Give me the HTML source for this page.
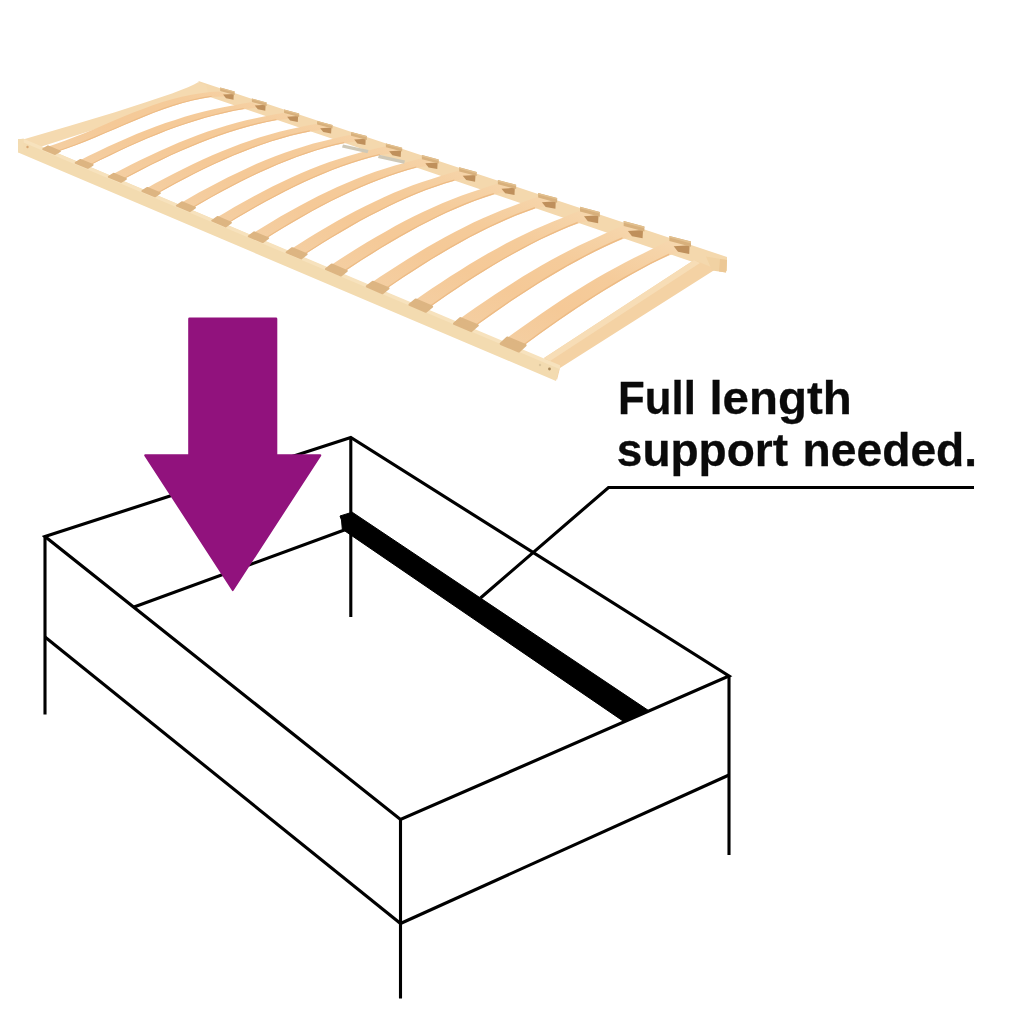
<!DOCTYPE html>
<html lang="en">
<head>
<meta charset="utf-8">
<title>Full length support needed</title>
<style>
html,body{margin:0;padding:0;background:#fff;}
body{width:1024px;height:1024px;overflow:hidden;position:relative;font-family:"Liberation Sans",sans-serif;}
svg{position:absolute;left:0;top:0;display:block;}
.t{font-family:"Liberation Sans",sans-serif;font-weight:bold;font-size:46.5px;fill:#0a0a0a;stroke:#0a0a0a;stroke-width:.3px;}
</style>
</head>
<body>
<svg width="1024" height="1024" viewBox="0 0 1024 1024">
<rect width="1024" height="1024" fill="#fff"/>
<!-- slatted bed base -->
<defs>
<linearGradient id="sg" gradientUnits="userSpaceOnUse" x1="300" y1="262" x2="372" y2="90">
<stop offset="0" stop-color="#f4cfa3"/><stop offset=".3" stop-color="#f5c997"/><stop offset=".55" stop-color="#f5cb9a"/><stop offset=".8" stop-color="#f6d4a9"/><stop offset="1" stop-color="#f6dcb6"/>
</linearGradient>
<filter id="bl" x="-5%" y="-5%" width="110%" height="110%"><feGaussianBlur stdDeviation=".7"/></filter>
</defs>
<g filter="url(#bl)">
<polygon points="198.5,81.1 727,257 727,271 712,268.6 199,93.2" fill="#f4d8ad"/>
<polygon points="23,139.6 70,125.7 115,112.2 145,102.4 160,97.4 172,93.6 188,87.2 194,84.6 198,82.3 206,85 208,93 40,147" fill="#f5dab0"/>
<polygon points="544,358 694,260 716,269 560,368 557,380" fill="#f4d2a4"/>
<polygon points="544,358 694,260 700,263 550,361" fill="#f7ddb6"/>
<polygon points="706,256.5 727,260 726,272.5 712,270.5" fill="#f1d2a3"/>
<polygon points="720,259 727,260 726,272.5 719,271.5" fill="#ecc896"/>
<polygon points="46.1,147.2 55.8,144 65.5,140.5 75.2,136.8 84.9,132.9 94.6,128.9 104.3,124.7 114,120.6 123.6,116.6 133.3,112.6 143,108.9 152.7,105.3 162.4,102.1 172.1,99.2 181.8,96.7 191.5,94.7 200.9,93.2 210,92.1 219,91.6 233.6,96.5 222.7,96.4 212.1,97 202.1,98.4 192.4,100.4 182.7,103 173,105.9 163.4,109.2 153.7,112.8 144,116.7 134.4,120.7 124.7,124.8 115,128.9 105.3,133.1 95.7,137.2 86,141.2 76.3,145 66.6,148.5 57,151.8" fill="url(#sg)"/>
<polygon points="57,150.7 66.6,147.5 76.3,143.9 86,140.1 95.7,136.1 105.3,132 115,127.9 124.7,123.7 134.4,119.6 144,115.6 153.7,111.7 163.4,108.1 173,104.8 182.7,101.9 192.4,99.4 202.1,97.3 211.7,95.8 211.7,96.8 202.1,98.4 192.4,100.4 182.7,103 173,105.9 163.4,109.2 153.7,112.8 144,116.7 134.4,120.7 124.7,124.8 115,128.9 105.3,133.1 95.7,137.2 86,141.2 76.3,145 66.6,148.5 57,151.8" fill="#edbb85"/>
<polygon points="78.7,160.9 88.3,156.1 97.9,151.4 107.6,146.8 117.2,142.4 126.9,138.2 136.5,134.1 146.1,130.3 155.8,126.6 165.4,123.1 175.1,119.9 184.7,116.8 194.3,114 204,111.5 213.6,109.2 223.3,107.2 232.7,105.4 241.7,103.7 250.6,102.3 265.6,107.3 254.7,108 244.1,109.2 234.1,110.8 224.5,112.9 214.8,115.2 205.2,117.8 195.6,120.7 186,123.8 176.3,127.1 166.7,130.6 157.1,134.4 147.5,138.3 137.8,142.5 128.2,146.8 118.6,151.2 109,155.9 99.3,160.6 89.7,165.5" fill="url(#sg)"/>
<polygon points="89.7,164.4 99.3,159.5 109,154.8 118.6,150.2 128.2,145.7 137.8,141.4 147.5,137.2 157.1,133.3 166.7,129.5 176.3,126 186,122.7 195.6,119.6 205.2,116.8 214.8,114.2 224.5,111.8 234.1,109.8 243.7,108 243.7,109.1 234.1,110.8 224.5,112.9 214.8,115.2 205.2,117.8 195.6,120.7 186,123.8 176.3,127.1 166.7,130.6 157.1,134.4 147.5,138.3 137.8,142.5 128.2,146.8 118.6,151.2 109,155.9 99.3,160.6 89.7,165.5" fill="#edbb85"/>
<polygon points="111.7,174.8 121.3,169.7 130.9,164.8 140.5,160 150.1,155.4 159.7,151 169.3,146.7 178.9,142.6 188.5,138.7 198.1,135.1 207.7,131.6 217.3,128.4 226.9,125.5 236.5,122.8 246.1,120.3 255.7,118.2 265,116.2 274,114.5 282.8,113 298.2,118 287.4,118.9 276.7,120.2 266.8,122 257.2,124.2 247.6,126.7 238,129.4 228.4,132.4 218.9,135.7 209.3,139.2 199.7,142.9 190.1,146.9 180.5,151 170.9,155.3 161.3,159.9 151.8,164.5 142.2,169.4 132.6,174.4 123,179.5" fill="url(#sg)"/>
<polygon points="123,178.4 132.6,173.3 142.2,168.3 151.8,163.4 161.3,158.7 170.9,154.2 180.5,149.9 190.1,145.7 199.7,141.8 209.3,138.1 218.9,134.6 228.4,131.3 238,128.3 247.6,125.5 257.2,123.1 266.8,120.9 276.4,118.9 276.4,120.1 266.8,122 257.2,124.2 247.6,126.7 238,129.4 228.4,132.4 218.9,135.7 209.3,139.2 199.7,142.9 190.1,146.9 180.5,151 170.9,155.3 161.3,159.9 151.8,164.5 142.2,169.4 132.6,174.4 123,179.5" fill="#edbb85"/>
<polygon points="145.4,188.9 154.9,183.6 164.5,178.5 174.1,173.5 183.6,168.7 193.2,164 202.8,159.6 212.3,155.3 221.9,151.2 231.4,147.4 241,143.8 250.6,140.4 260.1,137.2 269.7,134.4 279.3,131.8 288.8,129.5 298.1,127.4 307.1,125.5 315.8,123.9 331.6,129.1 320.8,130.1 310.2,131.5 300.3,133.4 290.7,135.8 281.2,138.4 271.6,141.3 262.1,144.5 252.5,148 243,151.7 233.4,155.6 223.9,159.7 214.3,164 204.8,168.6 195.2,173.3 185.7,178.2 176.1,183.3 166.6,188.5 157,193.8" fill="url(#sg)"/>
<polygon points="157,192.7 166.6,187.3 176.1,182.1 185.7,177.1 195.2,172.2 204.8,167.4 214.3,162.9 223.9,158.6 233.4,154.4 243,150.5 252.5,146.8 262.1,143.4 271.6,140.2 281.2,137.3 290.7,134.6 300.3,132.3 309.8,130.2 309.8,131.4 300.3,133.4 290.7,135.8 281.2,138.4 271.6,141.3 262.1,144.5 252.5,148 243,151.7 233.4,155.6 223.9,159.7 214.3,164 204.8,168.6 195.2,173.3 185.7,178.2 176.1,183.3 166.6,188.5 157,193.8" fill="#edbb85"/>
<polygon points="179.9,203.4 189.4,197.9 198.9,192.6 208.5,187.4 218,182.4 227.5,177.5 237.1,172.9 246.6,168.4 256.1,164.1 265.7,160.1 275.2,156.3 284.7,152.7 294.3,149.4 303.8,146.4 313.3,143.6 322.8,141.2 332.1,138.9 341,136.8 349.7,135 366,140.4 355.2,141.6 344.6,143.2 334.7,145.3 325.2,147.8 315.7,150.6 306.1,153.7 296.6,157.1 287.1,160.7 277.6,164.6 268.1,168.7 258.5,173 249,177.5 239.5,182.3 230,187.2 220.5,192.3 210.9,197.5 201.4,202.9 191.9,208.5" fill="url(#sg)"/>
<polygon points="191.9,207.3 201.4,201.8 210.9,196.4 220.5,191.1 230,186 239.5,181.1 249,176.4 258.5,171.8 268.1,167.5 277.6,163.4 287.1,159.5 296.6,155.9 306.1,152.5 315.7,149.4 325.2,146.6 334.7,144.1 344.2,141.9 344.2,143 334.7,145.3 325.2,147.8 315.7,150.6 306.1,153.7 296.6,157.1 287.1,160.7 277.6,164.6 268.1,168.7 258.5,173 249,177.5 239.5,182.3 230,187.2 220.5,192.3 210.9,197.5 201.4,202.9 191.9,208.5" fill="#edbb85"/>
<polygon points="215.4,218.3 224.9,212.7 234.4,207.1 243.9,201.8 253.4,196.5 262.9,191.5 272.4,186.6 281.9,182 291.4,177.5 300.9,173.3 310.4,169.3 319.9,165.6 329.4,162.1 338.9,158.9 348.4,155.9 357.9,153.3 367.1,150.8 376,148.6 384.6,146.6 401.5,152.2 390.7,153.5 380.1,155.2 370.2,157.5 360.7,160.2 351.2,163.3 341.7,166.5 332.2,170.1 322.7,173.9 313.2,178 303.7,182.3 294.3,186.8 284.8,191.5 275.3,196.4 265.8,201.5 256.3,206.8 246.8,212.2 237.3,217.8 227.8,223.6" fill="url(#sg)"/>
<polygon points="227.8,222.4 237.3,216.6 246.8,211 256.3,205.6 265.8,200.3 275.3,195.2 284.8,190.3 294.3,185.6 303.7,181.1 313.2,176.8 322.7,172.7 332.2,168.9 341.7,165.3 351.2,162.1 360.7,159 370.2,156.3 379.7,153.9 379.7,155.1 370.2,157.5 360.7,160.2 351.2,163.3 341.7,166.5 332.2,170.1 322.7,173.9 313.2,178 303.7,182.3 294.3,186.8 284.8,191.5 275.3,196.4 265.8,201.5 256.3,206.8 246.8,212.2 237.3,217.8 227.8,223.6" fill="#edbb85"/>
<polygon points="252,233.7 261.5,227.9 271,222.2 280.4,216.6 289.9,211.2 299.4,206 308.8,200.9 318.3,196.1 327.8,191.5 337.3,187 346.7,182.9 356.2,178.9 365.7,175.2 375.1,171.8 384.6,168.7 394.1,165.8 403.3,163.2 412.1,160.7 420.7,158.5 438.2,164.3 427.4,165.9 416.7,167.8 406.9,170.3 397.4,173.2 387.9,176.4 378.5,179.9 369,183.7 359.6,187.7 350.1,191.9 340.6,196.4 331.2,201.1 321.7,206 312.3,211.1 302.8,216.4 293.3,221.9 283.9,227.5 274.4,233.3 264.9,239.2" fill="url(#sg)"/>
<polygon points="264.9,237.9 274.4,232 283.9,226.2 293.3,220.6 302.8,215.2 312.3,209.9 321.7,204.8 331.2,199.9 340.6,195.2 350.1,190.7 359.6,186.4 369,182.4 378.5,178.7 387.9,175.2 397.4,172 406.9,169 416.3,166.4 416.3,167.6 406.9,170.3 397.4,173.2 387.9,176.4 378.5,179.9 369,183.7 359.6,187.7 350.1,191.9 340.6,196.4 331.2,201.1 321.7,206 312.3,211.1 302.8,216.4 293.3,221.9 283.9,227.5 274.4,233.3 264.9,239.2" fill="#edbb85"/>
<polygon points="289.9,249.7 299.4,243.7 308.8,237.8 318.3,232 327.7,226.5 337.1,221 346.6,215.8 356,210.8 365.5,206 374.9,201.4 384.4,197 393.8,192.8 403.2,188.9 412.7,185.3 422.1,182 431.6,178.9 440.7,176 449.5,173.3 458,170.8 476.3,176.9 465.4,178.7 454.7,180.8 444.9,183.5 435.5,186.7 426,190.1 416.6,193.8 407.2,197.8 397.7,202 388.3,206.5 378.9,211.2 369.4,216 360,221.1 350.6,226.4 341.2,231.9 331.7,237.5 322.3,243.3 312.9,249.3 303.4,255.3" fill="url(#sg)"/>
<polygon points="303.4,254.1 312.9,248 322.3,242 331.7,236.2 341.2,230.6 350.6,225.1 360,219.8 369.4,214.8 378.9,209.9 388.3,205.2 397.7,200.7 407.2,196.5 416.6,192.6 426,188.8 435.5,185.4 444.9,182.3 454.3,179.4 454.3,180.7 444.9,183.5 435.5,186.7 426,190.1 416.6,193.8 407.2,197.8 397.7,202 388.3,206.5 378.9,211.2 369.4,216 360,221.1 350.6,226.4 341.2,231.9 331.7,237.5 322.3,243.3 312.9,249.3 303.4,255.3" fill="#edbb85"/>
<polygon points="329.3,266.2 338.7,260 348.1,254 357.6,248.1 367,242.3 376.4,236.8 385.8,231.4 395.2,226.1 404.6,221.1 414,216.3 423.4,211.7 432.8,207.4 442.2,203.3 451.6,199.4 461.1,195.8 470.5,192.5 479.6,189.4 488.3,186.4 496.7,183.7 515.8,190 504.9,192 494.2,194.4 484.4,197.4 475,200.8 465.6,204.5 456.2,208.4 446.8,212.6 437.4,217 428,221.7 418.6,226.6 409.2,231.7 399.8,236.9 390.4,242.4 381,248 371.6,253.9 362.2,259.8 352.8,265.9 343.4,272.2" fill="url(#sg)"/>
<polygon points="343.4,270.8 352.8,264.6 362.2,258.5 371.6,252.5 381,246.7 390.4,241.1 399.8,235.6 409.2,230.3 418.6,225.2 428,220.4 437.4,215.7 446.8,211.3 456.2,207.1 465.6,203.1 475,199.5 484.4,196.1 493.8,192.9 493.8,194.3 484.4,197.4 475,200.8 465.6,204.5 456.2,208.4 446.8,212.6 437.4,217 428,221.7 418.6,226.6 409.2,231.7 399.8,236.9 390.4,242.4 381,248 371.6,253.9 362.2,259.8 352.8,265.9 343.4,272.2" fill="#edbb85"/>
<polygon points="370.3,283.5 379.7,277.1 389.1,270.9 398.4,264.9 407.8,258.9 417.2,253.2 426.6,247.6 435.9,242.2 445.3,237 454.7,232 464.1,227.2 473.4,222.6 482.8,218.2 492.2,214.2 501.6,210.3 510.9,206.7 520,203.3 528.6,200.1 537,197 556.9,203.6 546,205.9 535.3,208.6 525.5,211.9 516.1,215.5 506.8,219.5 497.4,223.7 488.1,228.1 478.7,232.7 469.3,237.6 460,242.7 450.6,248 441.3,253.5 431.9,259.1 422.5,264.9 413.2,270.9 403.8,277 394.5,283.3 385.1,289.7" fill="url(#sg)"/>
<polygon points="385.1,288.3 394.5,281.9 403.8,275.6 413.2,269.5 422.5,263.5 431.9,257.7 441.3,252.1 450.6,246.6 460,241.3 469.3,236.2 478.7,231.3 488.1,226.7 497.4,222.3 506.8,218.1 516.1,214.1 525.5,210.5 534.9,207.1 534.9,208.5 525.5,211.9 516.1,215.5 506.8,219.5 497.4,223.7 488.1,228.1 478.7,232.7 469.3,237.6 460,242.7 450.6,248 441.3,253.5 431.9,259.1 422.5,264.9 413.2,270.9 403.8,277 394.5,283.3 385.1,289.7" fill="#edbb85"/>
<polygon points="413.1,301.4 422.4,295 431.8,288.6 441.1,282.4 450.4,276.3 459.8,270.4 469.1,264.6 478.4,259 487.8,253.6 497.1,248.4 506.4,243.3 515.8,238.5 525.1,233.9 534.4,229.6 543.8,225.5 553.1,221.6 562.1,217.9 570.7,214.3 579,210.9 599.8,217.8 588.9,220.5 578.2,223.5 568.4,227 559.1,231 549.7,235.2 540.4,239.6 531.1,244.3 521.8,249.2 512.5,254.3 503.1,259.6 493.8,265.1 484.5,270.8 475.2,276.6 465.9,282.6 456.6,288.7 447.2,295 437.9,301.4 428.6,307.9" fill="url(#sg)"/>
<polygon points="428.6,306.5 437.9,300 447.2,293.6 456.6,287.3 465.9,281.1 475.2,275.1 484.5,269.3 493.8,263.7 503.1,258.2 512.5,252.9 521.8,247.8 531.1,242.9 540.4,238.2 549.7,233.7 559.1,229.5 568.4,225.5 577.7,221.8 577.7,223.3 568.4,227 559.1,231 549.7,235.2 540.4,239.6 531.1,244.3 521.8,249.2 512.5,254.3 503.1,259.6 493.8,265.1 484.5,270.8 475.2,276.6 465.9,282.6 456.6,288.7 447.2,295 437.9,301.4 428.6,307.9" fill="#edbb85"/>
<polygon points="457.8,320.2 467.1,313.6 476.4,307.1 485.7,300.7 494.9,294.5 504.2,288.4 513.5,282.4 522.8,276.6 532.1,271 541.4,265.6 550.7,260.3 560,255.3 569.2,250.4 578.5,245.8 587.8,241.4 597.1,237.2 606.1,233.1 614.5,229.2 622.7,225.4 644.6,232.7 633.6,235.7 622.9,239 613.1,242.9 603.9,247.2 594.6,251.7 585.3,256.4 576.1,261.4 566.8,266.5 557.5,271.9 548.2,277.4 539,283.1 529.7,288.9 520.4,295 511.2,301.1 501.9,307.4 492.6,313.9 483.4,320.4 474.1,327.1" fill="url(#sg)"/>
<polygon points="474.1,325.5 483.4,318.9 492.6,312.3 501.9,305.9 511.2,299.6 520.4,293.4 529.7,287.4 539,281.5 548.2,275.8 557.5,270.3 566.8,265 576.1,259.8 585.3,254.9 594.6,250.1 603.9,245.6 613.1,241.3 622.4,237.3 622.4,238.8 613.1,242.9 603.9,247.2 594.6,251.7 585.3,256.4 576.1,261.4 566.8,266.5 557.5,271.9 548.2,277.4 539,283.1 529.7,288.9 520.4,295 511.2,301.1 501.9,307.4 492.6,313.9 483.4,320.4 474.1,327.1" fill="#edbb85"/>
<polygon points="504.6,339.9 513.8,333.1 523,326.5 532.3,320 541.5,313.5 550.7,307.3 560,301.1 569.2,295.1 578.4,289.3 587.7,283.6 596.9,278.1 606.1,272.8 615.4,267.7 624.6,262.7 633.8,258 643.1,253.5 652,249.1 660.3,244.7 668.4,240.6 691.4,248.2 680.4,251.6 669.6,255.2 659.9,259.5 650.7,264.1 641.5,269 632.3,274 623.1,279.2 613.9,284.7 604.6,290.3 595.4,296 586.2,301.9 577,308 567.8,314.2 558.6,320.6 549.4,327 540.2,333.6 531,340.3 521.7,347.1" fill="url(#sg)"/>
<polygon points="521.7,345.5 531,338.7 540.2,332 549.4,325.4 558.6,319 567.8,312.6 577,306.4 586.2,300.3 595.4,294.4 604.6,288.7 613.9,283.1 623.1,277.6 632.3,272.4 641.5,267.4 650.7,262.5 659.9,257.9 669.1,253.5 669.1,255.1 659.9,259.5 650.7,264.1 641.5,269 632.3,274 623.1,279.2 613.9,284.7 604.6,290.3 595.4,296 586.2,301.9 577,308 567.8,314.2 558.6,320.6 549.4,327 540.2,333.6 531,340.3 521.7,347.1" fill="#edbb85"/>
<polygon points="223.1,94.5 233.8,93.9 233.5,99.7 226,98.2" fill="#bf905b"/>
<polygon points="220.2,87.6 234.7,91.4 234.7,94.9 220.2,91.1" fill="#d8b07c"/>
<polygon points="220.2,87.6 234.7,91.4 234.7,92.6 220.2,88.7" fill="#e2c08f"/>
<polygon points="254.8,105.5 265.6,104.8 265.3,110.7 257.8,109.3" fill="#bf905b"/>
<polygon points="251.9,98.5 266.6,102.4 266.6,105.9 251.9,102" fill="#d8b07c"/>
<polygon points="251.9,98.5 266.6,102.4 266.6,103.6 251.9,99.6" fill="#e2c08f"/>
<polygon points="287.1,116.7 298.1,116 297.8,122 290.1,120.5" fill="#bf905b"/>
<polygon points="284.1,109.5 299.1,113.5 299.1,117.1 284.1,113.1" fill="#d8b07c"/>
<polygon points="284.1,109.5 299.1,113.5 299.1,114.7 284.1,110.7" fill="#e2c08f"/>
<polygon points="320.2,128.2 331.5,127.5 331.1,133.6 323.3,132.1" fill="#bf905b"/>
<polygon points="317.1,120.9 332.5,124.9 332.5,128.6 317.1,124.5" fill="#d8b07c"/>
<polygon points="317.1,120.9 332.5,124.9 332.5,126.2 317.1,122.1" fill="#e2c08f"/>
<polygon points="354.2,139.5 365.7,138.8 365.4,145.1 357.3,143.5" fill="#bf905b"/>
<polygon points="351,131.9 366.8,136.1 366.8,139.9 351,135.7" fill="#d8b07c"/>
<polygon points="351,131.9 366.8,136.1 366.8,137.4 351,133.2" fill="#e2c08f"/>
<polygon points="389.1,151.2 401.1,150.4 400.7,156.9 392.4,155.3" fill="#bf905b"/>
<polygon points="385.9,143.4 402.1,147.7 402.1,151.6 385.9,147.3" fill="#d8b07c"/>
<polygon points="385.9,143.4 402.1,147.7 402.1,149 385.9,144.7" fill="#e2c08f"/>
<polygon points="425.3,163.2 437.6,162.4 437.3,169.1 428.6,167.5" fill="#bf905b"/>
<polygon points="421.9,155.1 438.7,159.6 438.7,163.6 421.9,159.2" fill="#d8b07c"/>
<polygon points="421.9,155.1 438.7,159.6 438.7,161 421.9,156.5" fill="#e2c08f"/>
<polygon points="462.7,175.7 475.5,174.9 475.1,181.8 466.2,180.1" fill="#bf905b"/>
<polygon points="459.2,167.3 476.7,172 476.7,176.1 459.2,171.5" fill="#d8b07c"/>
<polygon points="459.2,167.3 476.7,172 476.7,173.4 459.2,168.7" fill="#e2c08f"/>
<polygon points="501.5,188.7 514.8,187.8 514.5,195.1 505.2,193.3" fill="#bf905b"/>
<polygon points="497.9,179.9 516.1,184.8 516.1,189.1 497.9,184.3" fill="#d8b07c"/>
<polygon points="497.9,179.9 516.1,184.8 516.1,186.2 497.9,181.4" fill="#e2c08f"/>
<polygon points="541.9,202.2 555.8,201.3 555.4,208.8 545.7,206.9" fill="#bf905b"/>
<polygon points="538.1,193.1 557.1,198.1 557.1,202.7 538.1,197.6" fill="#d8b07c"/>
<polygon points="538.1,193.1 557.1,198.1 557.1,199.6 538.1,194.6" fill="#e2c08f"/>
<polygon points="584,216.2 598.5,215.3 598.1,223.2 587.9,221.2" fill="#bf905b"/>
<polygon points="580,206.7 599.8,212 599.8,216.8 580,211.5" fill="#d8b07c"/>
<polygon points="580,206.7 599.8,212 599.8,213.6 580,208.3" fill="#e2c08f"/>
<polygon points="627.9,230.9 643,230 642.6,238.2 632,236.2" fill="#bf905b"/>
<polygon points="623.7,221 644.4,226.5 644.4,231.5 623.7,226" fill="#d8b07c"/>
<polygon points="623.7,221 644.4,226.5 644.4,228.2 623.7,222.7" fill="#e2c08f"/>
<polygon points="673.7,246.3 689.6,245.3 689.2,253.9 678,251.8" fill="#bf905b"/>
<polygon points="669.4,235.9 691,241.6 691,246.8 669.4,241.1" fill="#d8b07c"/>
<polygon points="669.4,235.9 691,241.6 691,243.4 669.4,237.6" fill="#e2c08f"/>
<polygon points="343,144.4 368.5,150 367.5,153.2 342,147.6" fill="#cfc8b6"/>
<polygon points="379,154.8 405,160.6 404,163.8 378,158" fill="#cfc8b6"/>
<polygon points="18,139.3 23.5,138.8 560,366.2 559.5,368 556,381 18.2,152.5" fill="#f3dbb0"/>
<polygon points="23.5,138.8 560,365.2 560,369.2 23.5,142.5" fill="#f7e2bd"/>
<polygon points="18,139.3 23.5,138.8 23.5,152.5 18.2,152.5" fill="#f3dcb2"/>
<circle cx="27.5" cy="147" r="1.2" fill="#d9a772"/>
<circle cx="549.5" cy="369" r="1.4" fill="#a88758"/>
<circle cx="540" cy="365" r="1.2" fill="#dcc59d"/>
<polygon points="48,146.2 60,151.3 55.1,154.1 43.1,149.1" fill="#ddb582" stroke="#ddb582" stroke-width="1.7" stroke-linejoin="round"/>
<polygon points="80.5,159.8 92.7,164.9 87.8,167.9 75.6,162.8" fill="#ddb582" stroke="#ddb582" stroke-width="1.8" stroke-linejoin="round"/>
<polygon points="113.6,173.7 126,178.9 121,182 108.7,176.8" fill="#ddb582" stroke="#ddb582" stroke-width="1.8" stroke-linejoin="round"/>
<polygon points="147.4,187.8 160,193.1 155,196.4 142.3,191.1" fill="#ddb582" stroke="#ddb582" stroke-width="1.8" stroke-linejoin="round"/>
<polygon points="181.9,202.2 195,207.7 189.8,211.2 176.8,205.7" fill="#ddb582" stroke="#ddb582" stroke-width="1.9" stroke-linejoin="round"/>
<polygon points="217.5,217 230.9,222.7 225.7,226.4 212.2,220.7" fill="#ddb582" stroke="#ddb582" stroke-width="2" stroke-linejoin="round"/>
<polygon points="254.2,232.3 268.1,238.2 262.7,242.1 248.8,236.3" fill="#ddb582" stroke="#ddb582" stroke-width="2" stroke-linejoin="round"/>
<polygon points="292.2,248.2 306.6,254.2 301.1,258.4 286.7,252.4" fill="#ddb582" stroke="#ddb582" stroke-width="2.1" stroke-linejoin="round"/>
<polygon points="331.7,264.6 346.7,270.9 341,275.4 326,269.1" fill="#ddb582" stroke="#ddb582" stroke-width="2.2" stroke-linejoin="round"/>
<polygon points="372.8,281.8 388.4,288.3 382.5,293.1 366.9,286.5" fill="#ddb582" stroke="#ddb582" stroke-width="2.3" stroke-linejoin="round"/>
<polygon points="415.7,299.6 432,306.5 425.9,311.6 409.6,304.7" fill="#ddb582" stroke="#ddb582" stroke-width="2.4" stroke-linejoin="round"/>
<polygon points="460.5,318.3 477.6,325.4 471.3,330.9 454.2,323.7" fill="#ddb582" stroke="#ddb582" stroke-width="2.5" stroke-linejoin="round"/>
<polygon points="507.4,337.8 525.3,345.3 518.8,351.2 500.9,343.7" fill="#ddb582" stroke="#ddb582" stroke-width="2.6" stroke-linejoin="round"/>
</g>
<!-- bed frame outline -->
<g stroke="#000" stroke-linecap="butt" fill="none">
<polygon points="45,536.5 350.8,437.5 729,676 400.5,819.5" fill="none" stroke-width="3.15" stroke-linejoin="miter"/>
<line x1="45" y1="536.5" x2="45" y2="714.5" stroke-width="3.1"/>
<line x1="350.8" y1="437.5" x2="350.8" y2="617" stroke-width="3.1"/>
<line x1="729" y1="676" x2="729" y2="855" stroke-width="3.1"/>
<line x1="400.5" y1="819.5" x2="400.5" y2="998.5" stroke-width="3.1"/>
<line x1="45" y1="637" x2="400.5" y2="923.5" stroke-width="3.1"/>
<line x1="400.5" y1="923.5" x2="729" y2="775" stroke-width="3.1"/>
<line x1="134" y1="607" x2="345" y2="529.8" stroke-width="3.1"/>
<polyline points="480.5,598 608.5,487.5 974,487.5" fill="none" stroke-width="3.15" stroke-linejoin="miter"/>
</g>
<!-- support bar -->
<polygon points="340,516 352.2,512.2 648.5,710.5 623.3,721.2 342.3,529.2 341.5,520" fill="#000" stroke="#000" stroke-width="1" stroke-linejoin="round"/>
<!-- arrow -->
<path d="M189.5 317.5H276a1.3 1.3 0 0 1 1.3 1.3V454.3H320.3a1 1 0 0 1 .8 1.6L233.6 590.6a1 1 0 0 1-1.7 0L144.4 455.9a1 1 0 0 1 .8-1.6H188.2V318.8a1.3 1.3 0 0 1 1.3-1.3Z" fill="#91127d"/>
<!-- caption -->
<g opacity=".999">
<text class="t" x="618.1" y="413.7" textLength="77.8" lengthAdjust="spacingAndGlyphs">Full</text>
<text class="t" x="709.4" y="413.7" textLength="142.3" lengthAdjust="spacingAndGlyphs">length</text>
<text class="t" x="616.8" y="466.2" textLength="171.3" lengthAdjust="spacingAndGlyphs">support</text>
<text class="t" x="802.5" y="466.2" textLength="174.7" lengthAdjust="spacingAndGlyphs">needed.</text>
</g>
</svg>
</body>
</html>
